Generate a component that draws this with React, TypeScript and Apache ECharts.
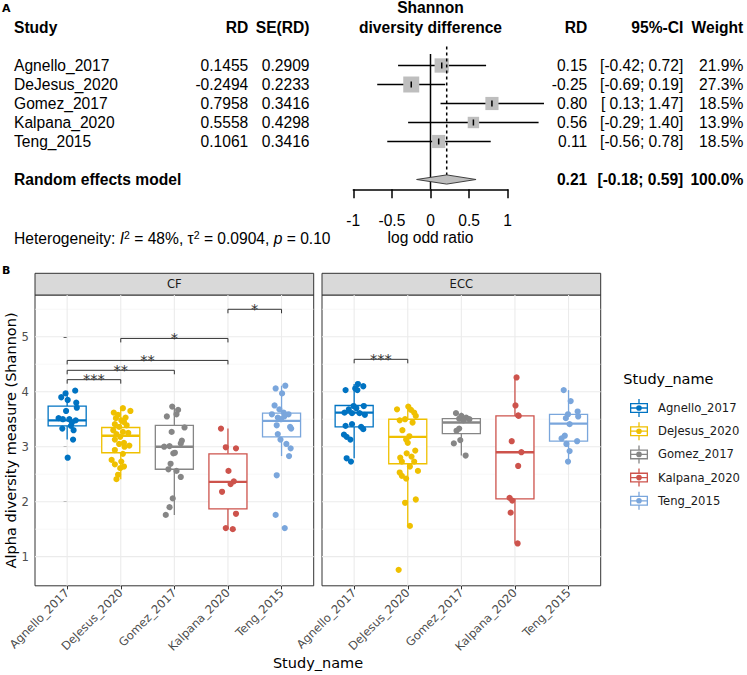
import React, { useEffect, useRef } from 'react';
import * as echarts from 'echarts';

// ---------- Panel A data (meta-analysis) ----------
const studies = ['Agnello_2017', 'DeJesus_2020', 'Gomez_2017', 'Kalpana_2020', 'Teng_2015'];
const rd = [0.1455, -0.2494, 0.7958, 0.5558, 0.1061];
const seRd = [0.2909, 0.2233, 0.3416, 0.4298, 0.3416];
const ciLow = [-0.42, -0.69, 0.13, -0.29, -0.56];
const ciHigh = [0.72, 0.19, 1.47, 1.4, 0.78];
const weights = [21.9, 27.3, 18.5, 13.9, 18.5];
const pooledEst = 0.21;
const pooledLow = -0.18;
const pooledHigh = 0.59;
const pooledWeight = 100.0;
const pooledRow = 6;
const hetI2 = '48%';
const hetTau2 = '0.0904';
const hetP = '0.10';
const forestTicks = [-1, -0.5, 0, 0.5, 1];

// ---------- Panel B data (alpha diversity) ----------
const studyColors = ['#0073C2', '#EFC000', '#868686', '#CD534C', '#7AA6DC'];
const yTicks = [1, 2, 3, 4, 5];
const yMinor = [1.5, 2.5, 3.5, 4.5, 5.5];
const yMin = 0.47;
const yMax = 5.76;

// [min, q1, median, q3, max]
const cfBox = [
  [3.13, 3.38, 3.48, 3.74, 4.02],
  [2.41, 2.89, 3.2, 3.35, 3.7],
  [1.76, 2.59, 3.0, 3.39, 3.73],
  [1.5, 1.87, 2.36, 2.87, 3.33],
  [2.83, 3.18, 3.47, 3.61, 4.11],
];
const eccBox = [
  [2.79, 3.36, 3.62, 3.75, 4.14],
  [1.56, 2.69, 3.18, 3.5, 3.73],
  [2.84, 3.24, 3.44, 3.51, 3.62],
  [1.24, 2.05, 2.9, 3.56, 4.26],
  [2.73, 3.1, 3.42, 3.59, 4.03],
];

// points: [horizontal jitter (category units), Shannon value]
const cfAgnello = [[0.15, 4.02], [-0.03, 3.97], [-0.11, 3.9], [0.01, 3.85], [0.17, 3.8], [0.18, 3.71], [-0.02, 3.65], [-0.16, 3.52], [-0.08, 3.5], [0.04, 3.5], [0.16, 3.48], [0.09, 3.44], [-0.09, 3.33], [0.07, 3.38], [0.12, 3.3], [0.11, 3.13], [0.01, 2.8]];
const cfDeJesus = [[0.04, 3.7], [0.18, 3.65], [-0.13, 3.62], [-0.05, 3.58], [0.09, 3.53], [-0.09, 3.52], [0.01, 3.48], [0.06, 3.45], [-0.11, 3.41], [0.11, 3.39], [-0.03, 3.36], [-0.14, 3.3], [0.04, 3.27], [-0.08, 3.23], [0.14, 3.25], [-0.01, 3.18], [-0.11, 3.13], [0.06, 3.07], [-0.03, 3.05], [0.16, 3.02], [0.07, 3.0], [-0.11, 2.94], [0.04, 2.87], [-0.17, 2.76], [0.01, 2.73], [-0.11, 2.68], [0.06, 2.64], [-0.01, 2.61], [-0.05, 2.49], [-0.08, 2.41]];
const cfGomez = [[-0.04, 3.73], [0.07, 3.67], [-0.14, 3.55], [0.04, 3.59], [0.19, 3.35], [-0.05, 3.27], [0.14, 3.11], [0.12, 3.06], [-0.19, 3.0], [-0.09, 3.01], [-0.02, 2.88], [0.01, 2.89], [-0.07, 2.69], [-0.11, 2.59], [0.04, 2.56], [0.12, 2.45], [-0.03, 2.06], [-0.09, 1.9], [-0.16, 1.76]];
const cfKalpana = [[-0.13, 3.33], [-0.04, 2.99], [0.15, 2.97], [0.01, 2.56], [0.11, 2.37], [0.05, 2.32], [-0.11, 2.18], [0.15, 1.78], [-0.04, 1.52], [0.09, 1.5]];
const cfTeng = [[0.07, 4.11], [-0.11, 4.06], [0.01, 3.97], [-0.13, 3.75], [-0.04, 3.68], [0.04, 3.62], [0.13, 3.59], [-0.18, 3.59], [-0.07, 3.53], [-0.01, 3.5], [0.05, 3.55], [0.16, 3.36], [0.18, 3.33], [-0.09, 3.39], [-0.07, 3.23], [-0.02, 3.13], [0.09, 3.05], [0.17, 2.97], [0.14, 2.83], [-0.09, 2.48], [-0.11, 1.76], [0.06, 1.52]];

const eccAgnello = [[0.07, 4.14], [0.17, 4.1], [0.02, 4.06], [-0.16, 4.03], [0.06, 4.03], [-0.01, 3.74], [0.18, 3.74], [0.04, 3.7], [-0.1, 3.68], [-0.18, 3.62], [-0.04, 3.61], [0.1, 3.61], [0.2, 3.58], [-0.04, 3.41], [-0.16, 3.38], [0.13, 3.36], [0.17, 3.32], [-0.19, 3.22], [-0.14, 3.18], [-0.07, 3.13], [-0.14, 2.79], [-0.06, 2.73]];
const eccDeJesus = [[-0.2, 3.68], [0.01, 3.73], [0.06, 3.67], [0.12, 3.62], [0.15, 3.56], [-0.15, 3.48], [-0.05, 3.5], [0.09, 3.44], [-0.1, 3.3], [0.03, 3.19], [-0.03, 3.13], [0.0, 3.07], [0.14, 2.93], [-0.02, 2.88], [-0.14, 2.8], [0.07, 2.82], [-0.11, 2.73], [0.12, 2.73], [0.04, 2.64], [0.19, 2.56], [-0.15, 2.53], [-0.11, 2.47], [-0.03, 2.42], [-0.05, 1.98], [0.15, 2.04], [0.04, 1.56], [-0.17, 0.76]];
const eccGomez = [[-0.1, 3.61], [0.0, 3.56], [0.09, 3.53], [-0.04, 3.51], [0.04, 3.48], [0.15, 3.5], [-0.09, 3.29], [-0.04, 3.33], [-0.02, 3.12], [-0.14, 3.06], [0.08, 2.84]];
const eccKalpana = [[0.03, 4.26], [0.01, 3.75], [0.06, 3.57], [0.07, 3.56], [-0.06, 3.1], [0.12, 2.9], [0.06, 2.65], [-0.1, 2.07], [-0.05, 2.02], [-0.08, 1.8], [0.05, 1.24]];
const eccTeng = [[-0.09, 4.03], [0.04, 3.83], [-0.01, 3.59], [0.17, 3.64], [0.18, 3.55], [-0.05, 3.52], [0.02, 3.41], [-0.07, 3.2], [-0.13, 3.15], [0.16, 3.1], [-0.04, 3.05], [0.02, 2.92], [-0.01, 2.73]];

const cfPoints = [cfAgnello, cfDeJesus, cfGomez, cfKalpana, cfTeng];
const eccPoints = [eccAgnello, eccDeJesus, eccGomez, eccKalpana, eccTeng];

// significance brackets: [from index, to index, height]
const cfSig = [[0, 1, 4.22], [0, 2, 4.39], [0, 3, 4.57], [1, 3, 4.97], [3, 4, 5.5]];
const cfSigLabels = ['***', '**', '**', '*', '*'];
const eccSig = [[0, 1, 4.59]];
const eccSigLabels = ['***'];

const panelNames = ['CF', 'ECC'];

// ---------- styling ----------
const FA = '"Liberation Sans", Arial, sans-serif';
const FB = '"DejaVu Sans", sans-serif';
const FS = 15.6;
const forestYMin = -0.605;
const forestYMax = 6.516;

const ICON =
  'path://M0 4H18V14H0Z M1.3 5.3V12.7H16.7V5.3Z M1.3 8.35H16.7V9.65H1.3Z M8.35 0H9.65V4H8.35Z M8.35 14H9.65V18H8.35Z M6.2 9A2.8 2.8 0 1 1 11.8 9A2.8 2.8 0 1 1 6.2 9Z';

function txt(text: string, x: number, y: number, opts: any = {}) {
  const style: any = {
    text,
    fill: opts.fill || '#000',
    fontSize: opts.fontSize || FS,
    fontFamily: opts.fontFamily || FA,
    fontWeight: opts.bold ? 'bold' : 'normal',
    fontStyle: opts.italic ? 'italic' : 'normal',
    align: opts.align || 'left',
    verticalAlign: opts.verticalAlign || 'middle',
  };
  if (opts.rich) style.rich = opts.rich;
  return { type: 'text', x, y, rotation: opts.rotation || 0, style };
}

const fmtCI = (l: number, h: number) => `[${l < 0 ? '' : ' '}${l.toFixed(2)}; ${h.toFixed(2)}]`;

const COL = { study: 14, rd: 248.3, se: 309.5, rd2: 587.3, ci: 683.3, w: 743.3 };

function buildOption(): any {
  const panelGrids = [
    { left: 35, top: 295, width: 278.7, height: 290.8 },
    { left: 322, top: 295, width: 278.7, height: 290.8 },
  ];

  const series: any[] = [];

  // forest rows
  series.push({
    type: 'custom',
    xAxisIndex: 0,
    yAxisIndex: 0,
    clip: false,
    silent: true,
    z: 2,
    itemStyle: { color: '#000' },
    data: studies.map((_, i) => [rd[i], i, ciLow[i], ciHigh[i], weights[i]]),
    renderItem: (params: any, api: any) => {
      const i = params.dataIndex;
      const c = api.coord([api.value(0), api.value(1)]);
      const lo = api.coord([api.value(2), api.value(1)]);
      const hi = api.coord([api.value(3), api.value(1)]);
      const side = 3.06 * Math.sqrt(api.value(4));
      const y = c[1];
      return {
        type: 'group',
        children: [
          { type: 'line', shape: { x1: lo[0], y1: y, x2: hi[0], y2: y }, style: { stroke: '#000', lineWidth: 1.6 } },
          { type: 'rect', shape: { x: c[0] - side / 2, y: y - side / 2, width: side, height: side }, style: { fill: '#BEBEBE' } },
          { type: 'line', shape: { x1: c[0], y1: y - 3, x2: c[0], y2: y + 3 }, style: { stroke: '#000', lineWidth: 1.5 } },
          txt(studies[i], COL.study, y),
          txt(rd[i].toFixed(4), COL.rd, y, { align: 'right' }),
          txt(seRd[i].toFixed(4), COL.se, y, { align: 'right' }),
          txt(rd[i].toFixed(2), COL.rd2, y, { align: 'right' }),
          txt(fmtCI(ciLow[i], ciHigh[i]), COL.ci, y, { align: 'right' }),
          txt(weights[i].toFixed(1) + '%', COL.w, y, { align: 'right' }),
        ],
      };
    },
  });

  // pooled estimate
  series.push({
    type: 'custom',
    xAxisIndex: 0,
    yAxisIndex: 0,
    clip: false,
    silent: true,
    z: 3,
    itemStyle: { color: '#000' },
    data: [[pooledEst, pooledRow, pooledLow, pooledHigh, pooledWeight]],
    renderItem: (params: any, api: any) => {
      const cs = params.coordSys;
      const c = api.coord([api.value(0), api.value(1)]);
      const lo = api.coord([api.value(2), api.value(1)]);
      const hi = api.coord([api.value(3), api.value(1)]);
      const zx = api.coord([0, api.value(1)])[0];
      const topY = api.coord([api.value(0), -1])[1];
      const h = 4.6;
      const y = c[1];
      return {
        type: 'group',
        children: [
          { type: 'line', shape: { x1: zx, y1: cs.y, x2: zx, y2: cs.y + cs.height }, style: { stroke: '#000', lineWidth: 1.5 } },
          { type: 'line', shape: { x1: c[0], y1: topY, x2: c[0], y2: y - h }, style: { stroke: '#000', lineWidth: 1.5, lineDash: [3, 3] } },
          {
            type: 'polygon',
            shape: { points: [[lo[0], y], [c[0], y - h], [hi[0], y], [c[0], y + h]] },
            style: { fill: '#BEBEBE', stroke: '#404040', lineWidth: 1 },
          },
          txt('Random effects model', COL.study, y, { bold: true }),
          txt(pooledEst.toFixed(2), COL.rd2, y, { align: 'right', bold: true }),
          txt(fmtCI(pooledLow, pooledHigh), COL.ci, y, { align: 'right', bold: true }),
          txt(api.value(4).toFixed(1) + '%', COL.w, y, { align: 'right', bold: true }),
        ],
      };
    },
  });

  const boxes = [cfBox, eccBox];
  const points = [cfPoints, eccPoints];
  const sigs = [cfSig, eccSig];
  const sigLabels = [cfSigLabels, eccSigLabels];

  for (let p = 0; p < 2; p++) {
    const ax = p + 1;
    // gridlines
    series.push({
      type: 'custom',
      xAxisIndex: ax,
      yAxisIndex: ax,
      silent: true,
      z: 1,
      itemStyle: { color: '#EBEBEB' },
      data: [...yTicks.map((v) => [v, 0]), ...yMinor.map((v) => [v, 1]), ...studies.map((_, i) => [i, 2])],
      renderItem: (params: any, api: any) => {
        const cs = params.coordSys;
        const v = api.value(0);
        const kind = api.value(1);
        if (kind === 2) {
          const x = api.coord([v, 3])[0];
          return { type: 'line', shape: { x1: x, y1: cs.y, x2: x, y2: cs.y + cs.height }, style: { stroke: '#EBEBEB', lineWidth: 1.1 } };
        }
        const y = api.coord([0, v])[1];
        return {
          type: 'line',
          shape: { x1: cs.x, y1: y, x2: cs.x + cs.width, y2: y },
          style: { stroke: kind === 0 ? '#EBEBEB' : '#F4F4F4', lineWidth: kind === 0 ? 1.1 : 0.6 },
        };
      },
    });
    // boxes
    series.push({
      type: 'custom',
      xAxisIndex: ax,
      yAxisIndex: ax,
      silent: true,
      z: 2,
      data: boxes[p].map((b, i) => [i, ...b]),
      renderItem: (params: any, api: any) => {
        const color = studyColors[params.dataIndex];
        const x = api.value(0);
        const pMin = api.coord([x, api.value(1)]);
        const cx = pMin[0];
        const yQ1 = api.coord([x, api.value(2)])[1];
        const yMed = api.coord([x, api.value(3)])[1];
        const yQ3 = api.coord([x, api.value(4)])[1];
        const yMx = api.coord([x, api.value(5)])[1];
        const w = api.size([0.71, 0])[0];
        return {
          type: 'group',
          children: [
            { type: 'line', shape: { x1: cx, y1: yQ3, x2: cx, y2: yMx }, style: { stroke: color, lineWidth: 1.3 } },
            { type: 'line', shape: { x1: cx, y1: yQ1, x2: cx, y2: pMin[1] }, style: { stroke: color, lineWidth: 1.3 } },
            { type: 'rect', shape: { x: cx - w / 2, y: yQ3, width: w, height: yQ1 - yQ3 }, style: { fill: '#fff', stroke: color, lineWidth: 1.3 } },
            { type: 'line', shape: { x1: cx - w / 2, y1: yMed, x2: cx + w / 2, y2: yMed }, style: { stroke: color, lineWidth: 2.4 } },
          ],
        };
      },
    });
    // points
    studies.forEach((s, i) => {
      series.push({
        type: 'scatter',
        name: s,
        xAxisIndex: ax,
        yAxisIndex: ax,
        z: 3,
        symbolSize: 6.2,
        itemStyle: { color: studyColors[i], opacity: 1 },
        data: points[p][i].map(([o, v]) => [i + o, v]),
      });
    });
    // significance brackets
    const labels = sigLabels[p];
    series.push({
      type: 'custom',
      xAxisIndex: ax,
      yAxisIndex: ax,
      silent: true,
      clip: false,
      z: 4,
      itemStyle: { color: '#333333' },
      data: sigs[p],
      renderItem: (params: any, api: any) => {
        const a = api.coord([api.value(0), api.value(2)]);
        const b = api.coord([api.value(1), api.value(2)]);
        const y = a[1];
        return {
          type: 'group',
          children: [
            {
              type: 'polyline',
              shape: { points: [[a[0], y + 4], [a[0], y], [b[0], y], [b[0], y + 4]] },
              style: { stroke: '#333333', lineWidth: 1, fill: 'none' },
            },
            txt(labels[params.dataIndex], (a[0] + b[0]) / 2, y - 0.5, { align: 'center', fontFamily: FB, fontSize: 14.5, fill: '#333333' }),
          ],
        };
      },
    });
  }

  const panelXAxis = (gi: number) => ({
    gridIndex: gi,
    type: 'value',
    min: -0.6,
    max: 4.6,
    axisLine: { show: false },
    axisTick: { show: true, customValues: [0, 1, 2, 3, 4], length: 3.6, lineStyle: { color: '#333', width: 1 } },
    axisLabel: {
      customValues: [0, 1, 2, 3, 4],
      rotate: 45,
      margin: 5,
      color: '#4D4D4D',
      fontSize: 11.6,
      fontFamily: FB,
      formatter: (v: number) => studies[Math.round(v)] || '',
    },
    splitLine: { show: false },
  });

  const panelYAxis = (gi: number, showLabels: boolean) => ({
    gridIndex: gi,
    type: 'value',
    min: yMin,
    max: yMax,
    axisLine: { show: false },
    axisTick: { show: showLabels, customValues: yTicks, length: 3.6, lineStyle: { color: '#333', width: 1 } },
    axisLabel: { show: showLabels, customValues: yTicks, margin: 6, color: '#4D4D4D', fontSize: 11.6, fontFamily: FB },
    splitLine: { show: false },
  });

  const graphic: any[] = [
    txt('A', 2, 8.3, { bold: true, fontSize: 11, fontFamily: FB }),
    txt('Study', COL.study, 27.3, { bold: true }),
    txt('RD', COL.rd, 27.3, { bold: true, align: 'right' }),
    txt('SE(RD)', COL.se, 27.3, { bold: true, align: 'right' }),
    txt('Shannon', 430.5, 7.8, { bold: true, align: 'center' }),
    txt('diversity difference', 430.5, 27.3, { bold: true, align: 'center' }),
    txt('RD', COL.rd2, 27.3, { bold: true, align: 'right' }),
    txt('95%-CI', COL.ci, 27.3, { bold: true, align: 'right' }),
    txt('Weight', COL.w, 27.3, { bold: true, align: 'right' }),
    txt(`Heterogeneity: {i|I}{s|2} = ${hetI2}, \u03C4{s|2} = ${hetTau2}, {i|p} = ${hetP}`, COL.study, 238, {
      rich: {
        i: { fontStyle: 'italic', fontSize: FS, fontFamily: FA, fill: '#000' },
        s: { fontSize: 10.5, fontFamily: FA, fill: '#000', verticalAlign: 'top', padding: [0, 0, 7, 0] },
      },
    }),
    txt('log odd ratio', 430.5, 237.7, { align: 'center' }),
    txt('B', 2, 270.5, { bold: true, fontSize: 11, fontFamily: FB }),
    txt('Alpha diversity measure (Shannon)', 10.5, 440.4, { align: 'center', fontFamily: FB, fontSize: 14.5, rotation: Math.PI / 2 }),
    txt('Study_name', 318, 663, { align: 'center', fontFamily: FB, fontSize: 14.5 }),
    txt('Study_name', 623.3, 379, { fontFamily: FB, fontSize: 14.5 }),
  ];
  panelGrids.forEach((g, k) => {
    graphic.push({
      type: 'rect',
      shape: { x: g.left, y: 273.3, width: g.width, height: g.top - 273.3 },
      style: { fill: '#D9D9D9', stroke: '#333', lineWidth: 1 },
    });
    graphic.push(txt(panelNames[k], g.left + g.width / 2, 284.2, { align: 'center', fontFamily: FB, fontSize: 11.6, fill: '#1A1A1A' }));
  });

  return {
    animation: false,
    backgroundColor: '#fff',
    grid: [
      { left: 353.3, top: 54, width: 154.4, height: 135.3, show: false },
      { ...panelGrids[0], show: true, borderColor: '#333333', borderWidth: 1, backgroundColor: '#fff' },
      { ...panelGrids[1], show: true, borderColor: '#333333', borderWidth: 1, backgroundColor: '#fff' },
    ],
    xAxis: [
      {
        gridIndex: 0,
        type: 'value',
        min: forestTicks[0],
        max: forestTicks[forestTicks.length - 1],
        interval: 0.5,
        axisLine: { show: true, onZero: false, lineStyle: { color: '#000', width: 1.5 } },
        axisTick: { show: true, length: 9, lineStyle: { color: '#000', width: 1.5 } },
        axisLabel: { margin: 23, color: '#000', fontSize: FS, fontFamily: FA, formatter: (v: number) => String(v) },
        splitLine: { show: false },
      },
      panelXAxis(1),
      panelXAxis(2),
    ],
    yAxis: [
      { gridIndex: 0, type: 'value', min: forestYMin, max: forestYMax, inverse: true, show: false },
      panelYAxis(1, true),
      panelYAxis(2, false),
    ],
    legend: {
      data: studies,
      orient: 'vertical',
      left: 625,
      top: 394,
      itemWidth: 18,
      itemHeight: 18,
      itemGap: 5.2,
      icon: ICON,
      selectedMode: false,
      textStyle: { fontSize: 11.6, fontFamily: FB, color: '#1A1A1A', padding: [0, 0, 0, 5] },
    },
    graphic,
    series,
  };
}

export default function App() {
  const ref = useRef<HTMLDivElement>(null);
  useEffect(() => {
    const chart = echarts.init(ref.current as HTMLDivElement, null, { renderer: 'svg' });
    chart.setOption(buildOption());
    return () => chart.dispose();
  }, []);
  return (
    <div
      ref={ref}
      style={{ position: 'fixed', left: 0, top: 0, width: 747, height: 675, background: '#fff' }}
    />
  );
}
